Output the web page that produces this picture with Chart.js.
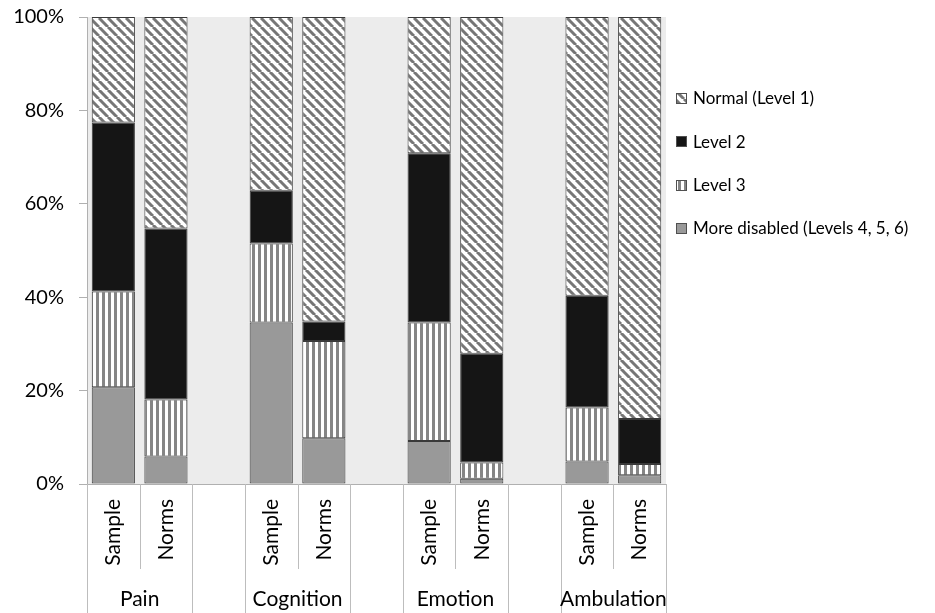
<!DOCTYPE html>
<html><head><meta charset="utf-8">
<script src="https://cdn.jsdelivr.net/npm/chart.js@4"></script>
<style>html,body{margin:0;padding:0;background:#fff}#wrap{width:935px;height:613px;position:relative}</style>
</head><body><div id="wrap"><canvas id="c" width="935" height="613"></canvas></div>
<script>
// ---- data ----
const slots = ['Sample','Norms','','Sample','Norms','','Sample','Norms','','Sample','Norms'];
const groups = ['Pain','Cognition','Emotion','Ambulation'];
const seriesNames = ['More disabled (Levels 4, 5, 6)','Level 3','Level 2','Normal (Level 1)'];
const moreDisabled = [20.7, 5.9, null, 34.6, 9.8, null, 9.2, 1.1, null, 4.8, 1.9];
const level3       = [20.5, 12.2, null, 16.9, 20.8, null, 25.4, 3.5, null, 11.6, 2.4];
const level2       = [36.2, 36.6, null, 11.3, 4.2, null, 36.2, 23.3, null, 23.9, 9.6];
const normal       = [22.6, 45.3, null, 37.2, 65.2, null, 29.2, 72.1, null, 59.7, 86.1];
const yTickStep = 20;

// ---- patterns ----
function diagPattern(){
  const n = 9;
  const c = document.createElement('canvas'); c.width = n; c.height = n;
  const g = c.getContext('2d');
  g.fillStyle = '#ffffff'; g.fillRect(0,0,n,n);
  g.strokeStyle = '#767676'; g.lineWidth = 3;
  for (const k of [-n,0,n]) { g.beginPath(); g.moveTo(k,0); g.lineTo(k+n,n); g.stroke(); }
  return g.createPattern(c,'repeat');
}
function vertPattern(){
  const c = document.createElement('canvas'); c.width = 6; c.height = 2;
  const g = c.getContext('2d');
  g.fillStyle = '#ffffff'; g.fillRect(0,0,6,2);
  g.fillStyle = '#858585'; g.fillRect(0,0,3,2);
  return g.createPattern(c,'repeat');
}
const ctxMain = document.getElementById('c').getContext('2d');
const fills = ['#999999', vertPattern(), '#151515', diagPattern()];
const seriesData = [moreDisabled, level3, level2, normal];

const FONT = 'Lato';

const bgPlugin = {
  id: 'bg',
  beforeDraw(chart){
    const {ctx, chartArea:a} = chart;
    ctx.save(); ctx.fillStyle = '#ececec';
    ctx.fillRect(a.left, a.top, a.right - a.left, a.bottom - a.top);
    ctx.restore();
  }
};

const axisPlugin = {
  id: 'axisGroups',
  afterDraw(chart){
    const {ctx, chartArea:a} = chart;
    const x = chart.scales.x;
    const p0 = x.getPixelForValue(0), p1 = x.getPixelForValue(1);
    const step = p1 - p0;
    ctx.save();
    ctx.strokeStyle = '#bdbdbd'; ctx.lineWidth = 1;
    for (let k = 0; k <= slots.length; k++) {
      const bx = Math.round(p0 - step/2 + k*step) + 0.5;
      const inner = (k % 3 === 1);
      ctx.beginPath(); ctx.moveTo(bx, a.bottom);
      ctx.lineTo(bx, inner ? a.bottom + 85 : chart.height);
      ctx.stroke();
    }
    ctx.fillStyle = '#000'; ctx.font = '21px ' + FONT;
    ctx.textAlign = 'center'; ctx.textBaseline = 'middle';
    groups.forEach((gname, gi) => {
      const cx = p0 - step/2 + (gi*3 + 1)*step;
      ctx.fillText(gname, cx, a.bottom + 115);
    });
    // legend
    const order = [3,2,1,0];
    ctx.font = '17px ' + FONT; ctx.textAlign = 'left';
    order.forEach((di, i) => {
      const cy = 98 + i*43.3;
      ctx.fillStyle = fills[di];
      ctx.fillRect(676, Math.round(cy) - 5, 11, 11);
      ctx.strokeStyle = '#505050';
      ctx.strokeRect(676.5, Math.round(cy) - 4.5, 10, 10);
      ctx.fillStyle = '#000';
      ctx.fillText(seriesNames[di], 693, cy + 1);
    });
    ctx.restore();
  }
};

new Chart(ctxMain, {
  type: 'bar',
  data: {
    labels: slots,
    datasets: seriesData.map((d, i) => ({
      label: seriesNames[i], data: d,
      backgroundColor: fills[i], borderColor: '#3a3a3a', borderWidth: 1,
      borderSkipped: false, barPercentage: 0.82, categoryPercentage: 1
    }))
  },
  options: {
    responsive: false, animation: false, devicePixelRatio: 1,
    layout: { padding: { top: 17, right: 269, left: 0, bottom: 0 } },
    plugins: { legend: { display: false }, tooltip: { enabled: false } },
    scales: {
      x: {
        stacked: true,
        grid: { display: false, drawTicks: false },
        border: { display: true, color: '#b0b0b0' },
        ticks: { minRotation: 90, maxRotation: 90, autoSkip: false, padding: 15,
                 color: '#000', font: { family: FONT, size: 21 } },
        afterFit(s){ s.height = 129; s.paddingLeft = 0; s.paddingRight = 0; }
      },
      y: {
        stacked: true, min: 0, max: 100,
        grid: { display: true, drawOnChartArea: false, drawTicks: true, tickLength: 8, color: '#b0b0b0' },
        border: { display: true, color: '#b0b0b0' },
        ticks: { stepSize: yTickStep, padding: 15, color: '#000',
                 font: { family: FONT, size: 20 }, callback: v => v + '%' },
        afterFit(s){ s.width = 87; s.paddingTop = 0; s.paddingBottom = 0; }
      }
    }
  },
  plugins: [bgPlugin, axisPlugin]
});
</script></body></html>
